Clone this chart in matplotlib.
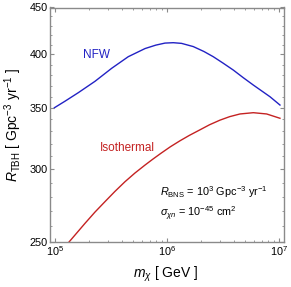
import numpy as np
import matplotlib
matplotlib.use("Agg")
import matplotlib.pyplot as plt
from matplotlib.ticker import FixedLocator, NullFormatter

plt.rcParams['font.family'] = ['Liberation Sans', 'DejaVu Sans']
plt.rcParams['mathtext.fontset'] = 'custom'
plt.rcParams['mathtext.rm'] = 'Liberation Sans'
plt.rcParams['mathtext.it'] = 'Liberation Sans:italic'
plt.rcParams['mathtext.bf'] = 'Liberation Sans:bold'

# log10 of m_chi [GeV] and rate values
nfw_logm = [4.994, 5.089, 5.208, 5.357, 5.506, 5.654, 5.804, 5.9, 5.982,
            6.056, 6.13, 6.235, 6.33, 6.413, 6.5, 6.592, 6.68, 6.771,
            6.92, 7.009]
nfw_rate = [350.0, 355.8, 363.5, 374.0, 386.4, 397.8, 406.0, 409.5, 411.6,
            412.0, 411.3, 408.0, 403.0, 397.8, 391.5, 384.7, 377.5, 370.5,
            359.8, 352.4]

iso_logm = [5.0, 5.125, 5.268, 5.357, 5.446, 5.535, 5.625, 5.714, 5.804,
            5.875, 5.945, 6.03, 6.116, 6.2, 6.295, 6.38, 6.473, 6.56, 6.652,
            6.771, 6.89, 7.009]
iso_rate = [239.5, 250.0, 262.0, 269.5, 276.6, 283.8, 290.8, 297.2, 303.2,
            307.8, 312.2, 317.4, 322.2, 326.6, 331.2, 335.4, 339.3, 342.3,
            344.6, 345.7, 344.6, 340.9]

yticks = [250, 300, 350, 400, 450]
xticks = [1e5, 1e6, 1e7]
xticklabels = [r'$10^{5}$', r'$10^{6}$', r'$10^{7}$']

blue = '#2222c4'
red = '#c42222'
gray = '#8a8a8a'

fig = plt.figure(figsize=(2.91, 2.87), dpi=100)
ax = fig.add_axes([50/291, 1-242/287, 234/291, 234.5/287])

ax.plot(10**np.array(nfw_logm), nfw_rate, color=blue, lw=1.0,
        solid_joinstyle='round')
ax.plot(10**np.array(iso_logm), iso_rate, color=red, lw=1.0,
        solid_joinstyle='round')

ax.set_xscale('log')
ax.set_yscale('log')
ax.set_xlim(10**4.955, 10**7.045)
ax.set_ylim(250, 450)

ax.yaxis.set_major_locator(FixedLocator(yticks))
ax.set_yticklabels([str(t) for t in yticks])
ax.yaxis.set_minor_locator(FixedLocator([v for v in range(260, 450, 10) if v % 50]))
ax.yaxis.set_minor_formatter(NullFormatter())
ax.xaxis.set_major_locator(FixedLocator(xticks))
ax.set_xticklabels(xticklabels)
minors = [k * 10**e for e in (5, 6) for k in range(2, 10)]
ax.xaxis.set_minor_locator(FixedLocator(minors))
ax.xaxis.set_minor_formatter(NullFormatter())

for s in ax.spines.values():
    s.set_color(gray)
    s.set_linewidth(1.0)
ax.tick_params(which='both', direction='in', top=True, right=True,
               color=gray, labelsize=7.8, labelcolor='black', pad=1.5)
ax.tick_params(which='major', length=3, width=0.8)
ax.tick_params(which='minor', length=1.6, width=0.6)

ax.text(96/291, 1-55/287, 'NFW', transform=fig.transFigure, color=blue,
        fontsize=8.5, ha='center', va='center')
ax.text(127/291, 1-148/287, 'Isothermal', transform=fig.transFigure, color=red,
        fontsize=8.5, ha='center', va='center')
ax.text(160/291, 1-192/287, r'$R_{\mathrm{BNS}}$ = 10$^{3}$ Gpc$^{-3}$ yr$^{-1}$',
        transform=fig.transFigure, fontsize=7.8, ha='left', va='center')
ax.text(160/291, 1-214/287, r'$\sigma_{\chi n}$ = 10$^{-45}$ cm$^{2}$',
        transform=fig.transFigure, fontsize=7.8, ha='left', va='center')

fig.text(166/291, 1-274/287, r'$m_{\chi}$ [ GeV ]', fontsize=10,
         ha='center', va='center')
fig.text(13/291, 1-125/287, r'$R_{\mathrm{TBH}}$ [ Gpc$^{-3}$ yr$^{-1}$ ]',
         fontsize=10, ha='center', va='center', rotation=90)

fig.savefig('out.png', dpi=100)
